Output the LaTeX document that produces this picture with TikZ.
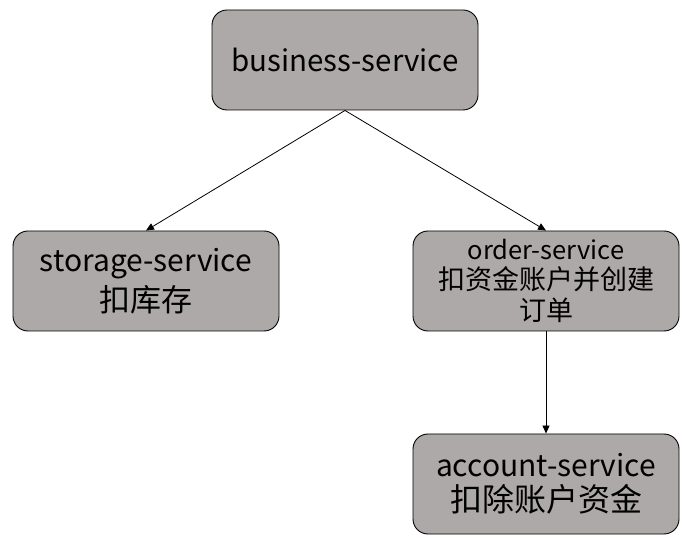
\documentclass[tikz,border=0pt]{standalone}
\usepackage{fontspec}
\setmainfont{Noto Sans CJK SC}
\usepackage{tikz}
\usetikzlibrary{arrows.meta,positioning,calc}

\definecolor{boxgray}{HTML}{ADA9A8}
\newcommand{\fsz}[1]{\fontsize{#1}{#1}\selectfont}

\begin{document}
\begin{tikzpicture}[x=1pt,y=1pt,
  svcbox/.style={draw=black,fill=boxgray,rounded corners=15pt,line width=0.9pt,
    minimum width=266pt,minimum height=100pt,align=center,inner sep=0pt},
  call/.style={-{Triangle[length=8pt,width=7pt]},line width=0.8pt}]
  \useasboundingbox (0,0) rectangle (688,549);
  \node[svcbox,font=\fsz{29.5}] (business) at (345,489) {business-service};
  \node[svcbox] (storage) at (146,268)
    {\fsz{30}storage-service\\[6pt]\fsz{31}扣库存};
  \node[svcbox] (order) at (546,268)
    {\fsz{25.5}order-service\\[5pt]\fsz{27}扣资金账户并创建\\[5pt]\fsz{27}订单};
  \node[svcbox] (account) at (546,65)
    {\fsz{30}account-service\\[6pt]\fsz{32}扣除账户资金};
  \draw[call] (business.south) -- (storage.north);
  \draw[call] (business.south) -- (order.north);
  \draw[call] (order.south) -- (account.north); % 下单后扣款
\end{tikzpicture}
\end{document}
